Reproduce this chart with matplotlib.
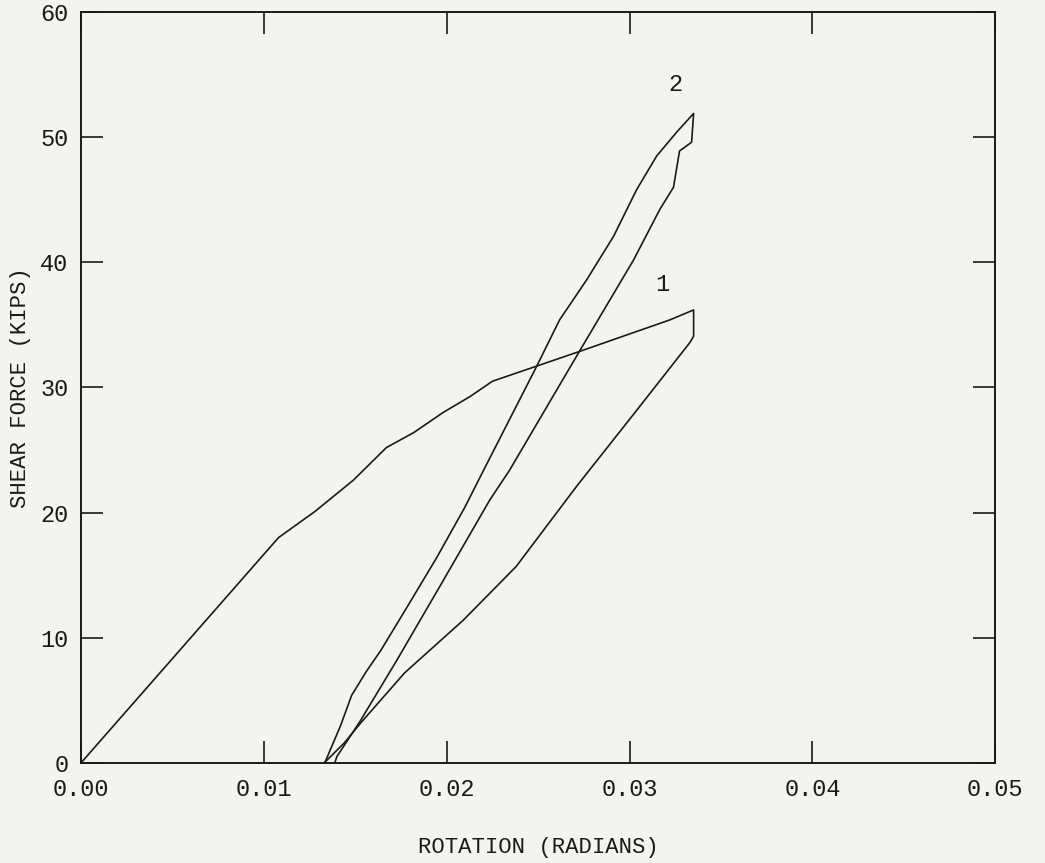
import matplotlib.pyplot as plt
import numpy as np

# curve 1: first load cycle (loading then unloading)
rot1 = [0.0, 0.0108, 0.0128, 0.0149, 0.0167, 0.0182, 0.0198, 0.0213, 0.0225,
        0.0249, 0.0273, 0.0322, 0.0335, 0.0335, 0.0333, 0.0304, 0.0271,
        0.0238, 0.0209, 0.0177, 0.0153, 0.0144, 0.0133]
shear1 = [0.0, 18.0, 20.1, 22.6, 25.2, 26.4, 28.0, 29.3, 30.5,
          31.7, 32.9, 35.4, 36.2, 34.1, 33.6, 28.2, 22.1,
          15.7, 11.4, 7.2, 3.2, 1.6, 0.0]

# curve 2: reload from residual rotation, then unload
rot2 = [0.01333, 0.01420, 0.01480, 0.01560, 0.01640, 0.01781, 0.01945, 0.02098,
        0.02202, 0.02492, 0.02617, 0.02765, 0.02913, 0.03038, 0.03148, 0.03257,
        0.0335, 0.03339, 0.03273, 0.0324, 0.03164, 0.03022, 0.0273, 0.02344,
        0.02235, 0.01962, 0.01727, 0.01525, 0.01399, 0.01388]
shear2 = [0.0, 3.0, 5.4, 7.3, 9.0, 12.4, 16.4, 20.4,
          23.4, 31.7, 35.4, 38.6, 42.1, 45.8, 48.5, 50.4,
          51.9, 49.6, 48.9, 46.0, 44.2, 40.2, 33.0, 23.4,
          21.0, 14.1, 8.2, 3.3, 0.5, 0.0]

curve_labels = ['1', '2']
label_pos = [(0.0318, 37.3), (0.0325, 53.3)]

xticks = [0.00, 0.01, 0.02, 0.03, 0.04, 0.05]
yticks = [0, 10, 20, 30, 40, 50, 60]

ink = '#1a1a1a'
paper = '#f3f4f0'
mono = ['Liberation Mono', 'DejaVu Sans Mono']

fig = plt.figure(figsize=(10.45, 8.63), dpi=100, facecolor=paper)
ax = fig.add_axes([0.0775, 0.116, 0.875, 0.870])
ax.set_facecolor(paper)

ax.plot(rot1, shear1, color=ink, lw=1.2)
ax.plot(rot2, shear2, color=ink, lw=1.2)
for txt, (x, y) in zip(curve_labels, label_pos):
    ax.text(x, y, txt, family=mono, fontsize=17, color=ink,
            ha='center', va='bottom')

ax.set_xlim(0, 0.05)
ax.set_ylim(0, 60)
ax.set_xticks(xticks)
ax.set_xticklabels(['%.2f' % t for t in xticks])
ax.set_yticks(yticks)
ax.set_yticklabels([str(t) for t in yticks])

ax.tick_params(direction='in', length=16, width=1.2, color=ink,
               top=True, right=True, labelsize=17, labelcolor=ink)
ax.tick_params(axis='x', pad=11)
ax.tick_params(axis='y', pad=9)
for lab in ax.get_xticklabels() + ax.get_yticklabels():
    lab.set_family(mono)
for sp in ax.spines.values():
    sp.set_linewidth(1.4)
    sp.set_color(ink)

ax.set_xlabel('ROTATION (RADIANS)', family=mono, fontsize=16,
              color=ink, labelpad=26)
ax.set_ylabel('SHEAR FORCE (KIPS)', family=mono, fontsize=16,
              color=ink, labelpad=7)

plt.savefig('out.png', dpi=100, facecolor=paper)
